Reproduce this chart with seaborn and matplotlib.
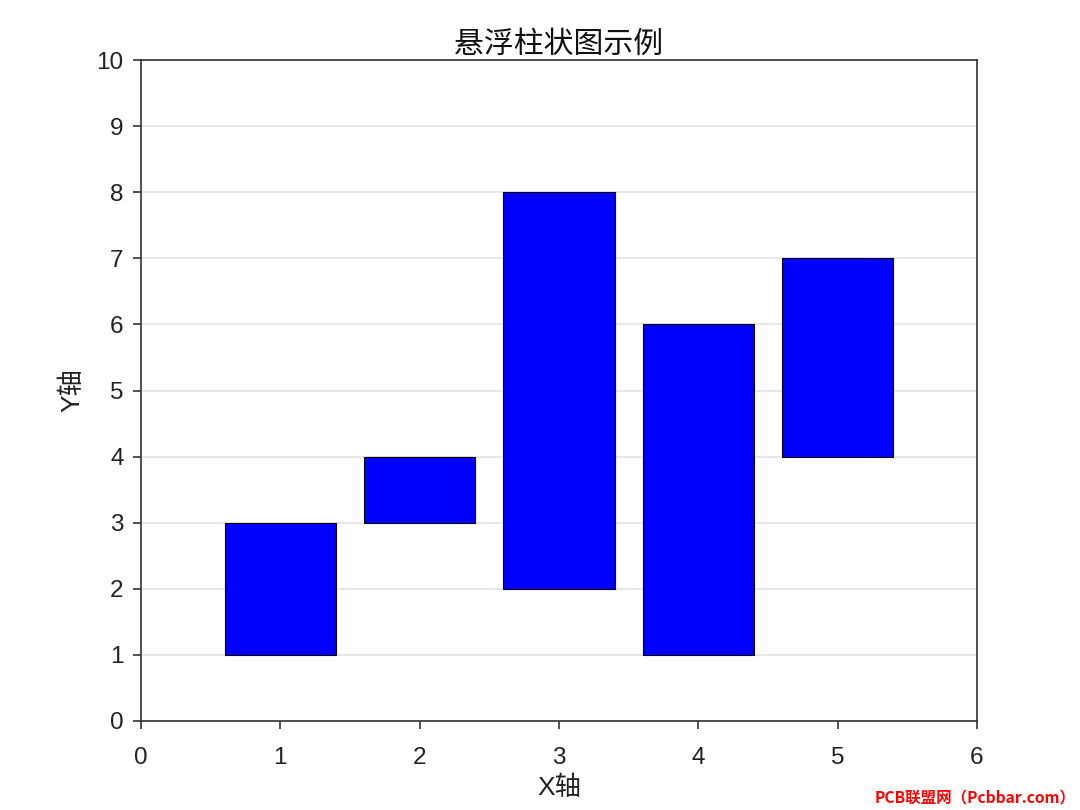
import matplotlib
matplotlib.use('Agg')
import matplotlib.pyplot as plt
import seaborn as sns
import pandas as pd

# 悬浮柱状图数据
x_pos = [1, 2, 3, 4, 5]
bottoms = [1, 3, 2, 1, 4]
tops = [3, 4, 8, 6, 7]
x_ticks = [0, 1, 2, 3, 4, 5, 6]
y_ticks = [0, 1, 2, 3, 4, 5, 6, 7, 8, 9, 10]

sns.set_style('white')
plt.rcParams['font.family'] = ['Liberation Sans', 'Noto Sans CJK SC', 'DejaVu Sans']

df = pd.DataFrame({'x': x_pos, 'bottom': bottoms, 'top': tops})
df['height'] = df['top'] - df['bottom']

fig = plt.figure(figsize=(10.8, 8.1), dpi=100)
ax = fig.add_axes([0.1306, 0.1099, 0.9046 - 0.1306, 0.9259 - 0.1099])

sns.barplot(data=df, x='x', y='height', bottom=df['bottom'], native_scale=True,
            width=0.8, color='#0000ff', saturation=1, edgecolor='black',
            linewidth=0.8, ax=ax, zorder=3)

ax.set_xlim(0, 6)
ax.set_ylim(0, 10)
ax.set_xticks(x_ticks)
ax.set_yticks(y_ticks)
ax.yaxis.grid(True, color='#e3e3e3', linewidth=1.2, zorder=0)
ax.xaxis.grid(False)
ax.set_axisbelow(True)

for s in ax.spines.values():
    s.set_color('#333333')
    s.set_linewidth(1.2)
    s.set_visible(True)

ax.tick_params(axis='both', direction='out', length=5.5, width=1.2, color='#333333',
               labelsize=17.5, labelcolor='#222222', bottom=True, left=True,
               top=False, right=False)
ax.tick_params(axis='x', pad=13)
ax.tick_params(axis='y', pad=7)

ax.set_title('悬浮柱状图示例', fontsize=21.5, color='#111111', pad=5)
ax.set_xlabel('X轴', fontsize=19, color='#222222', labelpad=5)
ax.set_ylabel('Y轴', fontsize=19, color='#222222', labelpad=9)

fig.text(0.996, 0.006, 'PCB联盟网（Pcbbar.com）', color='red', fontsize=11.2,
         fontweight='bold', ha='right', va='bottom',
         family=['Noto Sans CJK SC', 'DejaVu Sans'])

fig.savefig('out.png', dpi=100)
